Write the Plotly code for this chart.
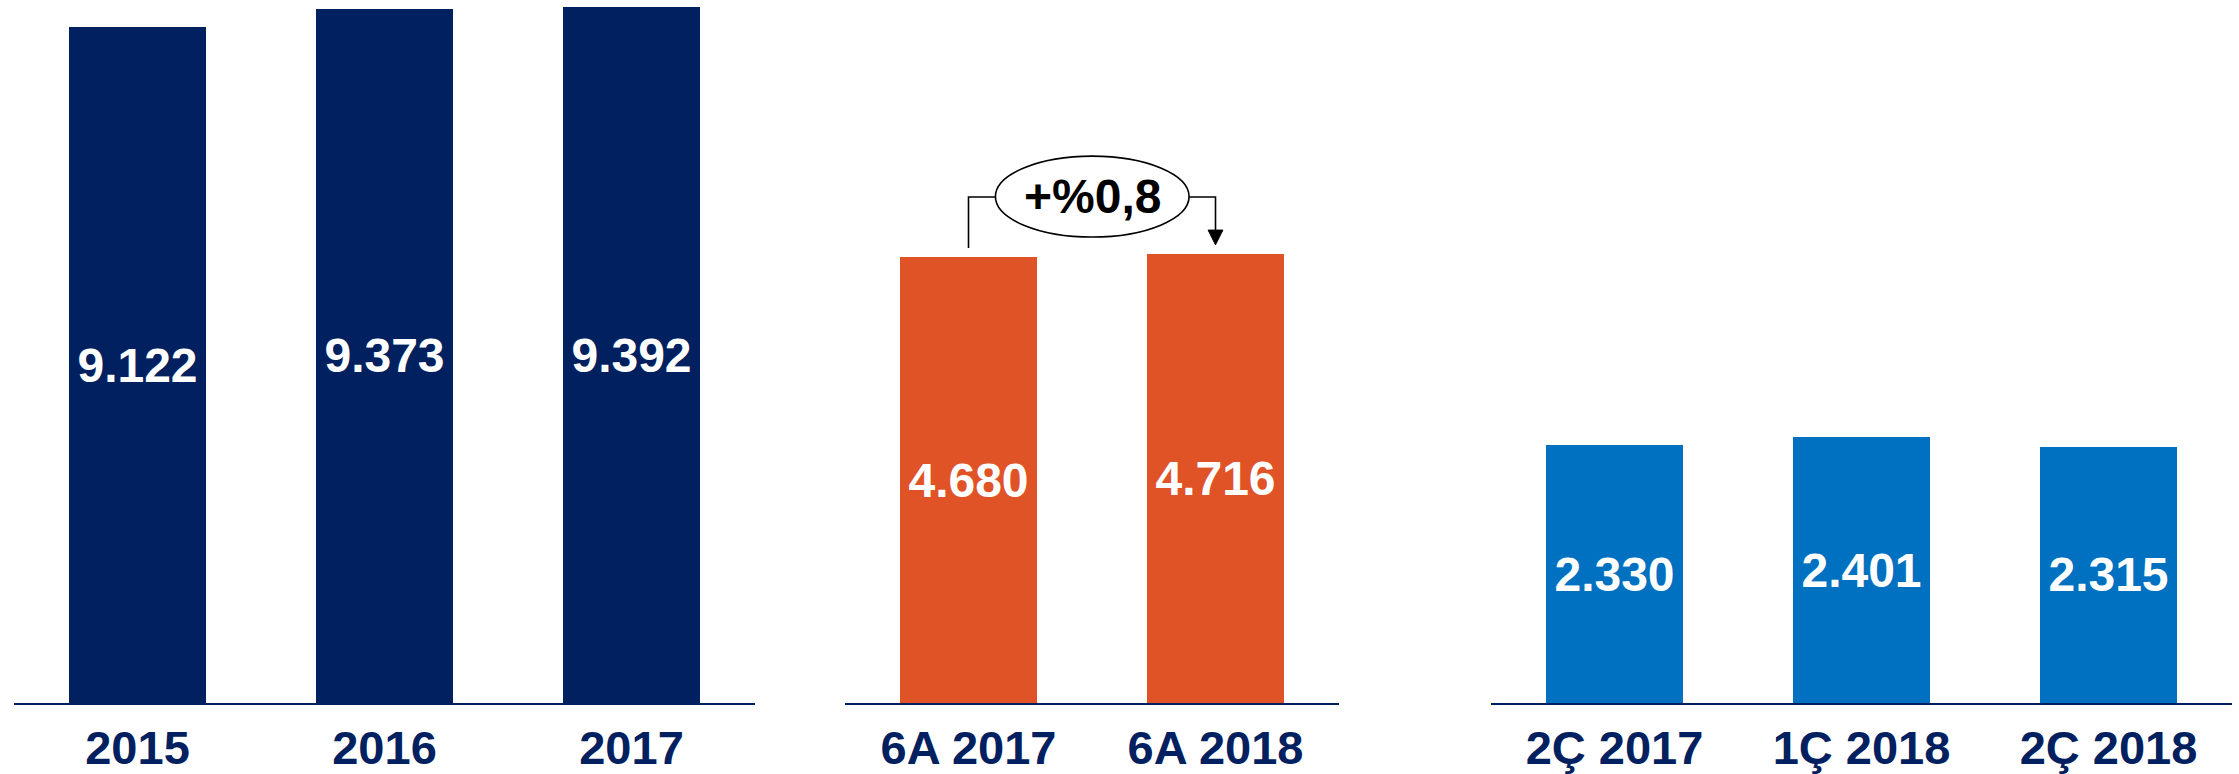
import plotly.graph_objects as go

# ---- data ----
years = ["2015", "2016", "2017"]
years_vals = [9122, 9373, 9392]

half = ["6A 2017", "6A 2018"]
half_vals = [4680, 4716]

quarters = ["2Ç 2017", "1Ç 2018", "2Ç 2018"]
quarter_vals = [2330, 2401, 2315]

growth_label = "+%0,8"

# ---- styles ----
NAVY = "#002060"
ORANGE = "#E05327"
BLUE = "#0070C0"
FONT = "Liberation Sans, Arial, sans-serif"
W, H = 2239, 774


def fmt(v):
    return f"{v:,}".replace(",", ".")


fig = go.Figure()

panels = [
    (years, years_vals, NAVY, "x", "y"),
    (half, half_vals, ORANGE, "x2", "y2"),
    (quarters, quarter_vals, BLUE, "x3", "y3"),
]
for cats, vals, col, xa, ya in panels:
    fig.add_trace(go.Bar(
        x=cats, y=vals, xaxis=xa, yaxis=ya,
        marker=dict(color=col, line=dict(width=0)),
        width=0.555,
        text=[fmt(v) for v in vals],
        textposition="inside", insidetextanchor="middle", textangle=0,
        textfont=dict(family=FONT, size=48, color="white", weight="bold"),
        cliponaxis=False, hoverinfo="skip",
    ))

domains = [[14 / W, 755 / W], [845 / W, 1339 / W], [1491 / W, 2232 / W]]
yranges = [[0, 9491], [0, 7382], [0, 6356]]
ncats = [len(years), len(half), len(quarters)]

for i in range(3):
    sfx = "" if i == 0 else str(i + 1)
    fig.layout["xaxis" + sfx] = dict(
        domain=domains[i], anchor="y" + sfx,
        range=[-0.5, ncats[i] - 0.5],
        showline=True, linecolor=NAVY, linewidth=2,
        showgrid=False, zeroline=False, ticks="",
        tickfont=dict(family=FONT, size=47, color=NAVY, weight="bold"),
        ticklabelstandoff=3,
        automargin=False, fixedrange=True,
    )
    fig.layout["yaxis" + sfx] = dict(
        domain=[0, 1], anchor="x" + sfx, range=yranges[i],
        visible=False, showgrid=False, zeroline=False,
        automargin=False, fixedrange=True,
    )

# ---- growth annotation on the middle panel ----
v0, v1 = half_vals
y_line = 5313
ex0, ex1 = 0.109, 0.893
shape_line = dict(color="black", width=1.6)
fig.add_shape(type="path", xref="x2", yref="y2",
              path=f"M 0,{v0 + 98} L 0,{y_line} L {ex0},{y_line}",
              line=shape_line)
fig.add_shape(type="path", xref="x2", yref="y2",
              path=f"M {ex1},{y_line} L 1,{y_line} L 1,{v1 + 240}",
              line=shape_line)
fig.add_shape(type="path", xref="x2", yref="y2",
              path=f"M 0.97,{v1 + 250} L 1.03,{v1 + 250} L 1,{v1 + 95} Z",
              line=dict(color="black", width=1), fillcolor="black")
fig.add_shape(type="circle", xref="x2", yref="y2",
              x0=ex0, x1=ex1, y0=4893, y1=5743,
              line=shape_line, fillcolor="white")
fig.add_annotation(xref="x2", yref="y2", x=0.5, y=5318, text=growth_label,
                   showarrow=False,
                   font=dict(family=FONT, size=48, color="black", weight="bold"))

fig.update_layout(
    width=W, height=H,
    margin=dict(l=0, r=0, t=0, b=71),
    paper_bgcolor="white", plot_bgcolor="white",
    showlegend=False, bargap=0,
)

fig.write_html(
    "out.html",
    config={"displayModeBar": False, "staticPlot": True},
    post_script="document.body.style.margin='0';document.body.style.overflow='hidden';",
)
